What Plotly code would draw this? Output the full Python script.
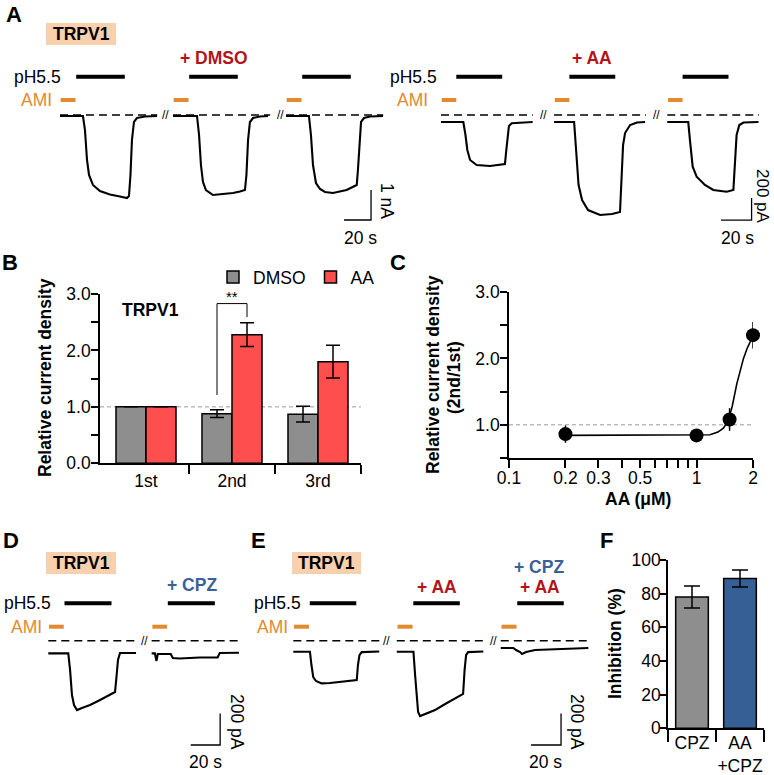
import math
import plotly.graph_objects as go

W, H = 774, 775
FONT = "Liberation Sans, Arial, Helvetica, sans-serif"
ORANGE = "#E38A2E"
DARKRED = "#B3141C"
BLUE = "#3A6094"
PEACH = "#F9D0AE"
GRAY = "#8E8E8E"
RED = "#FE4E4E"
NAVY = "#365F96"

# ---------------- data ----------------
# Panel A left (TRPV1, +DMSO): time (s) within sweep, current (pA)
a1_offsets = [0, 83.7, 167.4]
a1_t = [
    [0, 17, 18.5, 20, 21.5, 23, 24.4, 29.6, 37, 44.4, 49.6, 51.1, 52.2, 53.3, 54.8, 57, 63, 71.9],
    [0, 17.8, 19.3, 20.7, 22.2, 24.4, 29.6, 38.5, 44.4, 49.6, 53.3, 54.4, 55.6, 57, 59.3, 64.4, 70.4],
    [0, 17, 18.5, 20, 22.2, 25.2, 28.9, 34.8, 44.9, 52.4, 53.3, 54.4, 55.6, 57.8, 62.2, 71.9],
]
a1_i = [
    [-33, -33, -500, -1500, -2000, -2167, -2333, -2533, -2650, -2717, -2767, -2700, -2000, -833, -233, -100, -50, -33],
    [-33, -33, -667, -1667, -2233, -2500, -2667, -2633, -2600, -2550, -2500, -2000, -833, -233, -100, -50, -33],
    [-33, -33, -667, -1667, -2267, -2467, -2567, -2600, -2500, -2333, -1833, -833, -233, -100, -50, -33],
]
a1_len, a1_ph, a1_ami, a1_breaks = 72, [12, 48], [0.5, 11.5], [77.8, 163]

# Panel A right (TRPV1, +AA)
a2_offsets = [0, 73.9, 147.9]
a2_t = [
    [0, 14.6, 16.0, 17.2, 19.0, 23.3, 32.0, 41.8, 42.7, 43.5, 44.4, 46.2, 59.9],
    [0, 13.1, 14.4, 16.0, 18.3, 22.2, 30.1, 37.9, 43.1, 44.1, 45.1, 46.4, 49.7, 54.2, 59.5],
    [0, 13.7, 14.8, 16.6, 19.2, 24.6, 30.1, 38.8, 43.2, 44.3, 45.3, 47.1, 49.8, 59.6],
]
a2_i = [
    [-64, -64, -182, -318, -409, -455, -464, -445, -318, -182, -100, -75, -64],
    [-64, -64, -318, -636, -773, -864, -909, -900, -882, -545, -273, -164, -91, -68, -64],
    [-64, -64, -227, -470, -561, -636, -682, -697, -682, -455, -182, -91, -68, -64],
]
a2_len, a2_ph, a2_ami, a2_breaks = 60, [10, 40], [0.5, 10], [66.9, 140.6]

# Panel B
b_cats = ["1st", "2nd", "3rd"]
b_dmso = [1.0, 0.88, 0.87]
b_dmso_err = [0, 0.07, 0.14]
b_aa = [1.0, 2.28, 1.80]
b_aa_err = [0, 0.21, 0.29]

# Panel C
c_x = [0.2, 1, 1.5, 2]
c_y = [0.86, 0.84, 1.08, 2.35]
c_err = [0.13, 0.03, 0.17, 0.20]
c_fit_x = [0.2, 1.0, 1.18, 1.3, 1.39, 1.47, 1.55, 1.64, 1.72, 1.78, 1.86, 1.93, 2.0]
c_fit_y = [0.84, 0.84, 0.85, 0.89, 0.95, 1.05, 1.28, 1.62, 1.85, 2.0, 2.15, 2.26, 2.34]
c_tickvals = [0.1, 0.2, 0.3, 0.4, 0.5, 0.6, 0.7, 0.8, 0.9, 1, 2]
c_ticktext = ["0.1", "0.2", "0.3", "", "0.5", "", "", "", "", "1", "2"]

# Panel D
d_offsets = [0, 70.3]
d_t = [
    [0, 13.6, 14.8, 16.1, 17.5, 19.5, 22.9, 28.4, 35.2, 41.9, 45.4, 46.5, 47.4, 48.8, 59.7],
    [0, 2.2, 3.3, 4.2, 13, 14.4, 19.1, 32.7, 44.9, 46.3, 59.4],
]
d_i = [
    [-80, -80, -185, -344, -407, -439, -426, -407, -375, -344, -325, -217, -122, -78, -78],
    [-80, -80, -128, -84, -84, -110, -113, -106, -106, -78, -76],
]
d_len, d_ph, d_ami, d_breaks = 60, [11, 43], [0.5, 10.5], [65.1]

# Panel E
e_offsets = [0, 69, 138.3]
e_t = [
    [0, 11.1, 12.1, 13.3, 15.1, 18.9, 24.5, 31.1, 37.8, 42.3, 43.1, 44.1, 45.6, 57.3],
    [0, 11.1, 12.2, 13.3, 14.2, 15.5, 18.9, 25.5, 31.1, 36.9, 42.2, 44.2, 45.2, 46.2, 47.5, 57.7],
    [0, 8.4, 10.2, 12.9, 14.2, 16.9, 22.9, 39.5, 49.5, 58.4],
]
e_i = [
    [-70, -70, -154, -230, -255, -270, -268, -261, -255, -249, -154, -91, -72, -68],
    [-70, -70, -217, -375, -451, -477, -464, -439, -407, -375, -350, -337, -185, -91, -72, -68],
    [-46, -46, -59, -72, -84, -72, -59, -53, -49, -46],
]
e_len, e_ph, e_ami, e_breaks = 58, [11, 42], [0.5, 10.5], [62.3, 133.3]

# Panel F
f_cats = ["CPZ", "AA<br>+CPZ"]
f_vals = [78, 89]
f_err = [6.5, 5]

# ---------------- layout helpers ----------------
fig = go.Figure()
layout = dict(width=W, height=H, margin=dict(l=0, r=0, t=0, b=0, autoexpand=False),
              paper_bgcolor="white", plot_bgcolor="rgba(0,0,0,0)",
              font=dict(family=FONT, size=17.5, color="black"),
              barmode="overlay", showlegend=True, template="none")
annotations = []
shapes = []


def P(px, py):
    return px / W, 1 - py / H


def text(px, py, s, size=17.5, color="black", bold=False, xanchor="center", angle=0):
    x, y = P(px, py)
    annotations.append(dict(x=x, y=y, xref="paper", yref="paper",
                            text=f"<b>{s}</b>" if bold else s, showarrow=False,
                            font=dict(size=size, color=color, family=FONT),
                            xanchor=xanchor, yanchor="middle", textangle=angle))


def box(x0, y0, x1, y1, color):
    shapes.append(dict(type="rect", xref="paper", yref="paper",
                       x0=x0 / W, x1=x1 / W, y0=1 - y1 / H, y1=1 - y0 / H,
                       fillcolor=color, line=dict(width=0), layer="below"))


def axkeys(n):
    return ("xaxis" if n == 1 else f"xaxis{n}", "yaxis" if n == 1 else f"yaxis{n}",
            "x" if n == 1 else f"x{n}", "y" if n == 1 else f"y{n}")


def line(xs, ys, xa, ya, color="black", width=1.5, dash=None):
    fig.add_trace(go.Scatter(x=xs, y=ys, mode="lines", xaxis=xa, yaxis=ya,
                             line=dict(color=color, width=width, dash=dash),
                             showlegend=False, hoverinfo="skip"))


def trace_panel(n, geo, offsets, ts, cur, sweep_len, ph, ami, breaks, vbar):
    xk, yk, xa, ya = axkeys(n)
    ox, oy = geo["org"]
    kx, ky = geo["kx"], geo["ky"]
    x0p, x1p = geo["domx"]
    y0p, y1p = geo["domy"]
    layout[xk] = dict(domain=[x0p / W, x1p / W], range=[(x0p - ox) / kx, (x1p - ox) / kx],
                      visible=False, anchor=ya, automargin=False)
    layout[yk] = dict(domain=[1 - y1p / H, 1 - y0p / H], range=[-(y1p - oy) / ky, (oy - y0p) / ky],
                      visible=False, anchor=xa, automargin=False)
    ph_lvl = (oy - geo["ph_py"]) / ky
    ami_lvl = (oy - geo["ami_py"]) / ky
    for off, t, i in zip(offsets, ts, cur):
        line([off, off + sweep_len], [0, 0], xa, ya, width=1.4, dash="8px,5px")
        line([off + v for v in t], i, xa, ya, width=2.1)
        line([off + ph[0], off + ph[1]], [ph_lvl, ph_lvl], xa, ya, width=4)
        line([off + ami[0], off + ami[1]], [ami_lvl, ami_lvl], xa, ya, color=ORANGE, width=4)
    for b in breaks:
        annotations.append(dict(x=b, y=0, xref=xa, yref=ya, text="//", showarrow=False,
                                font=dict(size=12, family=FONT), xanchor="center", yanchor="middle"))
    sx, sy = geo["sb"]
    line([sx, sx + 20, sx + 20], [sy, sy, sy + vbar], xa, ya, width=1.3)


# ---------------- Panel A ----------------
trace_panel(1, dict(org=(60, 115), kx=1.35, ky=0.03, domx=(40, 400), domy=(55, 250),
                    ph_py=76.7, ami_py=100, sb=(210.4, -3500)),
            a1_offsets, a1_t, a1_i, a1_len, a1_ph, a1_ami, a1_breaks, 1000)
trace_panel(2, dict(org=(441, 115), kx=1.53, ky=0.11, domx=(425, 774), domy=(55, 250),
                    ph_py=76.7, ami_py=100, sb=(183, -955)),
            a2_offsets, a2_t, a2_i, a2_len, a2_ph, a2_ami, a2_breaks, 200)

text(14, 14, "A", size=22, bold=True)
box(46, 23, 116, 45, PEACH)
text(81, 34, "TRPV1", bold=True)
text(214, 58, "+ DMSO", color=DARKRED, bold=True)
text(592, 58, "+ AA", color=DARKRED, bold=True)
text(63, 77, "pH5.5", xanchor="right")
text(54, 100, "AMI", color=ORANGE, xanchor="right")
text(439, 77, "pH5.5", xanchor="right")
text(430, 100, "AMI", color=ORANGE, xanchor="right")
text(360, 238, "20 s")
text(387, 201, "1 nA", angle=90)
text(737, 238, "20 s")
text(763, 196, "200 pA", size=17, angle=90)

# ---------------- Panel B ----------------
axis_common = dict(showline=True, linecolor="black", linewidth=1.6, showgrid=False,
                   zeroline=False, automargin=False,
                   tickfont=dict(size=17.5, family=FONT, color="black"))
layout["xaxis3"] = dict(domain=[100 / W, 361 / W], range=[-0.535, 2.5], anchor="y3",
                        tickvals=[0, 1, 2], ticktext=b_cats, ticks="outside", ticklen=1,
                        tickcolor="rgba(0,0,0,0)",
                        minor=dict(tickvals=[0.5, 1.5, 2.5], ticks="outside", ticklen=9,
                                   tickwidth=1.5, tickcolor="black", showgrid=False),
                        **axis_common)
layout["yaxis3"] = dict(domain=[1 - 463.3 / H, 1 - 294 / H], range=[0, 3], anchor="x3",
                        tickvals=[0, 0.5, 1, 1.5, 2, 2.5, 3],
                        ticktext=["0.0", "", "1.0", "", "2.0", "", "3.0"],
                        ticks="outside", ticklen=7, tickwidth=1.5, tickcolor="black",
                        ticklabelstandoff=-3, **axis_common)
shapes.append(dict(type="line", xref="x3 domain", yref="y3", x0=0, x1=1, y0=1, y1=1,
                   line=dict(color="#9a9a9a", width=1, dash="4px,3px"), layer="below"))
bw = 0.349
fig.add_trace(go.Bar(x=[0, 1, 2], y=b_dmso, width=bw, offset=-bw, name="DMSO",
                     marker=dict(color=GRAY, line=dict(color="black", width=1.5)),
                     error_y=dict(type="data", array=b_dmso_err, color="black", thickness=1.5, width=7),
                     xaxis="x3", yaxis="y3", hoverinfo="skip"))
fig.add_trace(go.Bar(x=[0, 1, 2], y=b_aa, width=bw, offset=0, name="AA",
                     marker=dict(color=RED, line=dict(color="black", width=1.5)),
                     error_y=dict(type="data", array=b_aa_err, color="black", thickness=1.5, width=7),
                     xaxis="x3", yaxis="y3", hoverinfo="skip"))
line([1 - bw / 2, 1 - bw / 2, 1 + bw / 2, 1 + bw / 2], [1.21, 2.83, 2.83, 2.59], "x3", "y3", width=1)
text(10, 262, "B", size=22, bold=True)
text(150, 310, "TRPV1", bold=True)
text(232, 296, "**", size=15)
text(45, 378, "Relative current density", bold=True, angle=-90)
layout["legend"] = dict(x=213 / W, y=1 - 277 / H, xanchor="left", yanchor="middle",
                        orientation="h", font=dict(size=17.5, family=FONT),
                        bgcolor="rgba(0,0,0,0)", itemwidth=30, traceorder="normal")

# ---------------- Panel C ----------------
layout["xaxis4"] = dict(type="log", domain=[509 / W, 753 / W], range=[-1, math.log10(2)],
                        anchor="y4", tickvals=c_tickvals, ticktext=c_ticktext,
                        ticks="outside", ticklen=8, tickwidth=1.5, tickcolor="black",
                        ticklabelstandoff=-5, **axis_common)
layout["yaxis4"] = dict(domain=[1 - 458 / H, 1 - 292 / H], range=[0.5, 3], anchor="x4",
                        tickvals=[0.5, 1, 1.5, 2, 2.5, 3],
                        ticktext=["", "1.0", "", "2.0", "", "3.0"],
                        ticks="outside", ticklen=7, tickwidth=1.5, tickcolor="black",
                        ticklabelstandoff=-3, **axis_common)
shapes.append(dict(type="line", xref="x4 domain", yref="y4", x0=0, x1=1, y0=1, y1=1,
                   line=dict(color="#9a9a9a", width=1, dash="4px,3px"), layer="below"))
line(c_fit_x, c_fit_y, "x4", "y4", width=1.6)
fig.add_trace(go.Scatter(x=c_x, y=c_y, mode="markers", xaxis="x4", yaxis="y4",
                         marker=dict(size=14, color="black"), cliponaxis=False,
                         error_y=dict(type="data", array=c_err, color="black", thickness=1.5, width=0),
                         showlegend=False, hoverinfo="skip"))
text(398, 262, "C", size=22, bold=True)
text(433, 375, "Relative current density", bold=True, angle=-90)
text(454, 378, "(2nd/1st)", bold=True, angle=-90)
text(638, 499, "AA (μM)", bold=True)

# ---------------- Panel D ----------------
trace_panel(5, dict(org=(48.3, 640.7), kx=1.47, ky=0.158, domx=(30, 250), domy=(590, 775),
                    ph_py=603.3, ami_py=626.7, sb=(96.9, -660)),
            d_offsets, d_t, d_i, d_len, d_ph, d_ami, d_breaks, 200)
text(11, 540, "D", size=22, bold=True)
box(46, 552, 116, 574, PEACH)
text(81, 563, "TRPV1", bold=True)
text(192, 585, "+ CPZ", color=BLUE, bold=True)
text(53, 603, "pH5.5", xanchor="right")
text(44, 627, "AMI", color=ORANGE, xanchor="right")
text(205, 762, "20 s")
text(237, 722, "200 pA", angle=90)

# ---------------- Panel E ----------------
trace_panel(6, dict(org=(293.3, 640.7), kx=1.5, ky=0.158, domx=(280, 600), domy=(590, 775),
                    ph_py=603.3, ami_py=626.7, sb=(158.5, -660)),
            e_offsets, e_t, e_i, e_len, e_ph, e_ami, e_breaks, 200)
text(258, 540, "E", size=22, bold=True)
box(292, 552, 361, 574, PEACH)
text(326, 563, "TRPV1", bold=True)
text(437, 587, "+ AA", color=DARKRED, bold=True)
text(539, 567, "+ CPZ", color=BLUE, bold=True)
text(540, 587, "+ AA", color=DARKRED, bold=True)
text(303, 603, "pH5.5", xanchor="right")
text(290, 627, "AMI", color=ORANGE, xanchor="right")
text(545, 762, "20 s")
text(577, 722, "200 pA", angle=90)

# ---------------- Panel F ----------------
layout["xaxis7"] = dict(domain=[668 / W, 764 / W], range=[-0.5, 1.5], anchor="y7",
                        tickvals=[0, 1], ticktext=f_cats, ticks="outside", ticklen=1,
                        tickcolor="rgba(0,0,0,0)", ticklabelstandoff=-3,
                        minor=dict(tickvals=[-0.5, 0.5, 1.5], ticks="outside", ticklen=12,
                                   tickwidth=1.5, tickcolor="black", showgrid=False),
                        **axis_common)
layout["yaxis7"] = dict(domain=[1 - 728.3 / H, 1 - 560 / H], range=[0, 100], anchor="x7",
                        tickvals=[0, 20, 40, 60, 80, 100], ticks="outside", ticklen=6,
                        tickwidth=1.5, tickcolor="black", ticklabelstandoff=-4, **axis_common)
fig.add_trace(go.Bar(x=[0, 1], y=f_vals, width=0.68, xaxis="x7", yaxis="y7",
                     marker=dict(color=[GRAY, NAVY], line=dict(color="black", width=1.5)),
                     error_y=dict(type="data", array=f_err, color="black", thickness=1.5, width=8),
                     showlegend=False, hoverinfo="skip"))
text(606, 540, "F", size=22, bold=True)
text(615, 644, "Inhibition (%)", bold=True, angle=-90)

layout["annotations"] = annotations
layout["shapes"] = shapes
fig.update_layout(**layout)
fig.write_html("out.html", config={"displayModeBar": False},
               post_script="document.body.style.margin='0px';document.body.style.padding='0px';")
